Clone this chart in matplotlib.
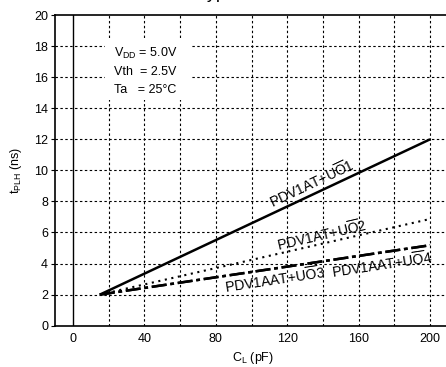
import numpy as np
import matplotlib
matplotlib.use("Agg")
import matplotlib.pyplot as plt
from matplotlib.patches import Rectangle

plt.rcParams['font.family'] = ['Liberation Sans', 'DejaVu Sans']
plt.rcParams['mathtext.fontset'] = 'custom'
plt.rcParams['mathtext.rm'] = 'Liberation Sans'
plt.rcParams['mathtext.it'] = 'Liberation Sans'

# load capacitance (pF) vs propagation delay (ns)
cl = [15, 200]
uo1 = [2.0, 12.0]
uo2 = [2.0, 6.87]
uo3 = [2.0, 5.18]
uo4 = [2.0, 5.18]

labels = [r'PDV1AT+U$\overline{\mathrm{O}}$1',
          r'PDV1AT+U$\overline{\mathrm{O}}$2',
          r'PDV1AAT+U$\overline{\mathrm{O}}$3',
          r'PDV1AAT+U$\overline{\mathrm{O}}$4']
label_xy = [(133.7, 9.17), (139.3, 5.85), (113.2, 2.94), (172.9, 3.9)]
label_rot = [25.3, 13, 8.6, 8.6]

conditions = [r'V$_{\mathrm{DD}}$ = 5.0V', 'Vth  = 2.5V', 'Ta   = 25°C']

fig = plt.figure(figsize=(4.46, 3.67), dpi=100)
ax = fig.add_axes([55 / 446, 41.3 / 367, 395.5 / 446, 310.7 / 367])

ax.set_xlim(-10.1, 211.4)
ax.set_ylim(0, 20)
ax.set_xticks(np.arange(0, 201, 40))
ax.set_yticks(np.arange(0, 21, 2))

grid_ls = (0, (2.2, 2.2))
for x in np.arange(20, 201, 20):
    ax.axvline(x, color='black', lw=0.8, ls=grid_ls, zorder=1)
for y in np.arange(2, 19, 2):
    ax.axhline(y, color='black', lw=0.8, ls=grid_ls, zorder=1)
ax.axvline(0, color='black', lw=1.0, zorder=1)

ax.plot(cl, uo1, color='black', lw=1.8, solid_capstyle='butt', zorder=3)
ax.plot(cl, uo2, color='black', lw=1.5, ls=(0, (1, 2.2)), zorder=3)
ax.plot(cl, uo3, color='black', lw=1.8, ls=(0, (6, 1.5, 1.5, 1.5)), zorder=3)
ax.plot(cl, uo4, color='black', lw=1.8, ls=(0, (6, 1.5, 1.5, 1.5)), zorder=3)

for txt, (x, y), r in zip(labels, label_xy, label_rot):
    ax.text(x, y, txt, fontsize=10, rotation=r, ha='center', va='center',
            rotation_mode='anchor', zorder=4)

# white panel behind the test conditions
ax.add_patch(Rectangle((17.9, 14.5), 47.6, 4.0, facecolor='white',
                       edgecolor='none', zorder=2))
ax.text(23, 16.4, '\n'.join(conditions), fontsize=9, va='center', ha='left',
        linespacing=1.6, zorder=4)

for s in ax.spines.values():
    s.set_linewidth(1.2)
ax.tick_params(axis='y', which='major', direction='out', length=3, labelsize=9, pad=2)
ax.tick_params(axis='x', which='both', length=0, labelsize=9, pad=5)

ax.set_xlabel(r'C$_{\mathrm{L}}$ (pF)', fontsize=9, labelpad=4)
ax.set_ylabel(r't$_{\mathrm{PLH}}$ (ns)', fontsize=9, labelpad=7)

fig.text(198 / 446, 1 + 1.5 / 367, 'Typical', fontsize=13, ha='left', va='baseline')

fig.savefig('out.png', dpi=100)
